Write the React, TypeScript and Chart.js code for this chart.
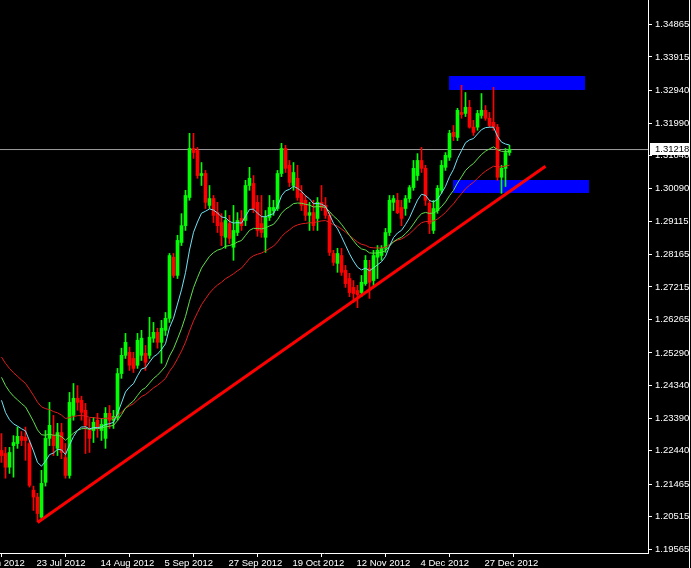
import React, { useEffect, useRef } from "react";
import { Chart, registerables } from "chart.js";

Chart.register(...registerables);

// ---- Daily EURUSD candles (bar index 0 = 11 Jul 2012) ----
const OPEN = [
  1.2245, 1.2236, 1.2196, 1.2259, 1.2265, 1.2286, 1.2283, 1.2265, 1.2129, 1.2109,
  1.2050, 1.2152, 1.2280, 1.2288, 1.2251, 1.2297, 1.2224, 1.2172, 1.2347, 1.2397,
  1.2391, 1.2362, 1.2303, 1.2303, 1.2333, 1.2303, 1.2280, 1.2353, 1.2333, 1.2341,
  1.2469, 1.2522, 1.2531, 1.2513, 1.2493, 1.2522, 1.2528, 1.2522, 1.2572, 1.2589,
  1.2560, 1.2595, 1.2630, 1.2808, 1.2755, 1.2851, 1.2900, 1.2982, 1.3125, 1.3119,
  1.3046, 1.3052, 1.2959, 1.2979, 1.2938, 1.2909, 1.2866, 1.2906, 1.2837, 1.2880,
  1.2921, 1.2915, 1.3017, 1.3023, 1.2968, 1.2906, 1.2866, 1.2924, 1.2944, 1.2950,
  1.3052, 1.3125, 1.3076, 1.3017, 1.3038, 1.2994, 1.2974, 1.2930, 1.2938, 1.2921,
  1.2968, 1.2959, 1.2930, 1.2819, 1.2790, 1.2813, 1.2770, 1.2746, 1.2720, 1.2711,
  1.2705, 1.2731, 1.2775, 1.2740, 1.2808, 1.2813, 1.2834, 1.2880, 1.2968, 1.2974,
  1.2953, 1.2950, 1.2979, 1.3011, 1.3046, 1.3090, 1.3067, 1.2965, 1.2886, 1.2944,
  1.3003, 1.3070, 1.3099, 1.3172, 1.3157, 1.3230, 1.3227, 1.3245, 1.3187, 1.3187,
  1.3221, 1.3236, 1.3213, 1.3201, 1.3187, 1.3041, 1.3067, 1.3113,
];
const HIGH = [
  1.2294, 1.2254, 1.2254, 1.2288, 1.2313, 1.2300, 1.2313, 1.2274, 1.2141, 1.2120,
  1.2187, 1.2303, 1.2385, 1.2347, 1.2324, 1.2324, 1.2265, 1.2414, 1.2440, 1.2434,
  1.2403, 1.2382, 1.2338, 1.2341, 1.2353, 1.2338, 1.2370, 1.2376, 1.2362, 1.2484,
  1.2543, 1.2586, 1.2546, 1.2531, 1.2586, 1.2595, 1.2551, 1.2633, 1.2618, 1.2601,
  1.2624, 1.2647, 1.2819, 1.2819, 1.2872, 1.2935, 1.3003, 1.3169, 1.3169, 1.3128,
  1.3084, 1.3061, 1.3017, 1.2988, 1.2968, 1.2935, 1.2944, 1.2930, 1.2959, 1.2938,
  1.2944, 1.3032, 1.3070, 1.3046, 1.2988, 1.2988, 1.2944, 1.2988, 1.2974, 1.3061,
  1.3140, 1.3134, 1.3090, 1.3084, 1.3076, 1.3017, 1.2988, 1.2968, 1.2974, 1.2982,
  1.3017, 1.2982, 1.2938, 1.2828, 1.2834, 1.2834, 1.2784, 1.2761, 1.2740, 1.2726,
  1.2755, 1.2813, 1.2799, 1.2828, 1.2842, 1.2842, 1.2892, 1.2988, 1.2988, 1.2994,
  1.2974, 1.2988, 1.3017, 1.3090, 1.3110, 1.3128, 1.3076, 1.2974, 1.2974, 1.3017,
  1.3090, 1.3113, 1.3178, 1.3192, 1.3242, 1.3309, 1.3288, 1.3265, 1.3207, 1.3236,
  1.3285, 1.3250, 1.3230, 1.3303, 1.3195, 1.3076, 1.3125, 1.3134,
];
const LOW = [
  1.2210, 1.2164, 1.2178, 1.2167, 1.2251, 1.2259, 1.2216, 1.2138, 1.2070, 1.2038,
  1.2044, 1.2141, 1.2259, 1.2230, 1.2230, 1.2221, 1.2164, 1.2164, 1.2333, 1.2362,
  1.2333, 1.2236, 1.2239, 1.2268, 1.2283, 1.2274, 1.2251, 1.2309, 1.2309, 1.2333,
  1.2455, 1.2513, 1.2478, 1.2472, 1.2484, 1.2507, 1.2478, 1.2513, 1.2560, 1.2543,
  1.2499, 1.2580, 1.2618, 1.2749, 1.2746, 1.2842, 1.2886, 1.2974, 1.3096, 1.3038,
  1.3017, 1.2950, 1.2950, 1.2909, 1.2880, 1.2842, 1.2834, 1.2848, 1.2799, 1.2871,
  1.2886, 1.2900, 1.3003, 1.2938, 1.2869, 1.2866, 1.2822, 1.2915, 1.2930, 1.2944,
  1.3043, 1.3055, 1.3014, 1.3003, 1.2974, 1.2944, 1.2915, 1.2886, 1.2886, 1.2886,
  1.2944, 1.2921, 1.2813, 1.2784, 1.2764, 1.2755, 1.2720, 1.2693, 1.2676, 1.2661,
  1.2693, 1.2726, 1.2688, 1.2726, 1.2746, 1.2799, 1.2822, 1.2871, 1.2944, 1.2935,
  1.2900, 1.2930, 1.2968, 1.3003, 1.3032, 1.3055, 1.2959, 1.2877, 1.2877, 1.2936,
  1.2994, 1.3061, 1.3090, 1.3148, 1.3148, 1.3213, 1.3218, 1.3184, 1.3163, 1.3178,
  1.3213, 1.3207, 1.3187, 1.3178, 1.3032, 1.2994, 1.3014, 1.3105,
];
const CLOSE = [
  1.2230, 1.2196, 1.2239, 1.2268, 1.2286, 1.2274, 1.2274, 1.2143, 1.2109, 1.2061,
  1.2149, 1.2280, 1.2318, 1.2259, 1.2297, 1.2239, 1.2172, 1.2385, 1.2397, 1.2385,
  1.2356, 1.2318, 1.2280, 1.2327, 1.2313, 1.2321, 1.2353, 1.2333, 1.2344, 1.2469,
  1.2522, 1.2560, 1.2493, 1.2484, 1.2566, 1.2572, 1.2502, 1.2575, 1.2589, 1.2560,
  1.2601, 1.2630, 1.2813, 1.2755, 1.2857, 1.2900, 1.2988, 1.3125, 1.3113, 1.3046,
  1.3052, 1.2968, 1.2979, 1.2930, 1.2900, 1.2871, 1.2915, 1.2863, 1.2886, 1.2915,
  1.2900, 1.3017, 1.3038, 1.2950, 1.2886, 1.2880, 1.2924, 1.2953, 1.2953, 1.3052,
  1.3125, 1.3067, 1.3026, 1.3055, 1.2982, 1.2959, 1.2930, 1.2938, 1.2900, 1.2968,
  1.2953, 1.2930, 1.2822, 1.2793, 1.2819, 1.2764, 1.2731, 1.2705, 1.2702, 1.2699,
  1.2735, 1.2799, 1.2735, 1.2813, 1.2828, 1.2834, 1.2880, 1.2974, 1.2979, 1.2938,
  1.2921, 1.2979, 1.3011, 1.3067, 1.3090, 1.3067, 1.2974, 1.2906, 1.2950, 1.3009,
  1.3076, 1.3105, 1.3169, 1.3160, 1.3236, 1.3224, 1.3245, 1.3187, 1.3172, 1.3227,
  1.3236, 1.3213, 1.3192, 1.3187, 1.3041, 1.3067, 1.3113, 1.31218,
];

// ---- Axis ticks ----
const PRICE_TICKS = [
  1.34865, 1.33915, 1.3294, 1.3199, 1.3104, 1.3009, 1.29115, 1.28165, 1.27215,
  1.26265, 1.2529, 1.2434, 1.2339, 1.2244, 1.21465, 1.20515, 1.19565,
];
const DATE_TICK_INDEX = [-8, 8, 24, 40, 56, 72, 88, 104, 120];
const DATE_TICK_LABELS = [
  "29 Jun 2012", "23 Jul 2012", "14 Aug 2012", "5 Sep 2012", "27 Sep 2012",
  "19 Oct 2012", "12 Nov 2012", "4 Dec 2012", "27 Dec 2012",
];
const LAST_PRICE = 1.31218;

// ---- Moving averages (periods and their values at bar 0) ----
const MA_PERIODS = [10, 21, 34];
const MA_START = [1.2391, 1.2458, 1.2517];
const MA_COLORS = ["#6fe3f5", "#5fe04a", "#e21c1c"];

// ---- Drawn objects ----
const TREND_INDEX = [9, 136];
const TREND_PRICE = [1.2035, 1.3073];
const ZONE_FROM = [112, 113];
const ZONE_TO = [146, 147];
const ZONE_HIGH = [1.3335, 1.3032];
const ZONE_LOW = [1.3295, 1.2995];

// ---- View ----
const X_MIN = -0.375;
const X_MAX = X_MIN + 162;
const Y_MAX = 1.35576;
const Y_MIN = Y_MAX - 553 / 3431.4;

const UP = "#00ff00";
const DOWN = "#ff0000";
const FONT = { family: "'Liberation Sans', Arial, sans-serif", size: 9.5 };

function ema(values: number[], period: number, start: number): number[] {
  const a = 2 / (period + 1);
  const out: number[] = [start];
  for (let i = 1; i < values.length; i++) {
    out.push(out[i - 1] + a * (values[i] - out[i - 1]));
  }
  return out;
}

function noPad(s: any) {
  s.paddingLeft = 0;
  s.paddingRight = 0;
  s.paddingTop = 0;
  s.paddingBottom = 0;
}

export default function App() {
  const ref = useRef<HTMLCanvasElement>(null);

  useEffect(() => {
    const canvas = ref.current;
    if (!canvas) return;
    const idx = CLOSE.map((_, i) => i);
    const colors = idx.map((i) => (CLOSE[i] >= OPEN[i] ? UP : DOWN));
    const mas = MA_PERIODS.map((p, k) => ema(CLOSE, p, MA_START[k]));

    const mtPlugin = {
      id: "mtDecor",
      beforeDraw(chart: any) {
        const ctx = chart.ctx;
        ctx.save();
        ctx.fillStyle = "#000000";
        ctx.fillRect(0, 0, chart.width, chart.height);
        ctx.restore();
      },
      beforeDatasetsDraw(chart: any) {
        const ctx = chart.ctx;
        const xs = chart.scales.x;
        const ys = chart.scales.y;
        const a = chart.chartArea;
        ctx.save();
        ctx.beginPath();
        ctx.rect(a.left, a.top, a.right - a.left, a.bottom - a.top);
        ctx.clip();
        ctx.fillStyle = "#0000ff";
        for (let k = 0; k < ZONE_FROM.length; k++) {
          const x1 = Math.floor(xs.getPixelForValue(ZONE_FROM[k]));
          const x2 = Math.floor(xs.getPixelForValue(ZONE_TO[k]));
          const y1 = Math.round(ys.getPixelForValue(ZONE_HIGH[k]));
          const y2 = Math.round(ys.getPixelForValue(ZONE_LOW[k]));
          ctx.fillRect(x1, y1, x2 - x1, y2 - y1);
        }
        ctx.restore();
      },
      afterDraw(chart: any) {
        const ctx = chart.ctx;
        const ys = chart.scales.y;
        const a = chart.chartArea;
        const y = Math.floor(ys.getPixelForValue(LAST_PRICE));
        ctx.save();
        ctx.fillStyle = "#ffffff";
        ctx.fillRect(a.right + 2, y - 6, 39, 12);
        ctx.fillStyle = "#000000";
        ctx.font = `${FONT.size}px ${FONT.family}`;
        ctx.textBaseline = "middle";
        ctx.textAlign = "left";
        ctx.fillText(LAST_PRICE.toFixed(5), a.right + 7, y + 0.5);
        ctx.fillStyle = "#ffffff";
        ctx.fillRect(chart.width - 2, 0, 1, chart.height);
        ctx.restore();
      },
    };

    const chart = new Chart(canvas, {
      type: "line",
      data: {
        datasets: [
          {
            type: "line",
            label: "price",
            data: [
              { x: X_MIN, y: LAST_PRICE },
              { x: X_MAX, y: LAST_PRICE },
            ],
            borderColor: "#9c9c9c",
            borderWidth: 1,
            pointRadius: 0,
            order: 10,
          },
          {
            type: "bar",
            label: "wicks",
            data: idx.map((i) => ({ x: i, y: [LOW[i], HIGH[i]] })),
            backgroundColor: colors,
            barThickness: 1,
            grouped: false,
            borderWidth: 0,
            minBarLength: 1,
            order: 6,
          },
          {
            type: "bar",
            label: "bodies",
            data: idx.map((i) => ({ x: i, y: [OPEN[i], CLOSE[i]] })),
            backgroundColor: colors,
            barThickness: 3,
            grouped: false,
            borderWidth: 0,
            minBarLength: 1,
            order: 5,
          },
          ...mas.map((m, k) => ({
            type: "line",
            label: "MA" + MA_PERIODS[k],
            data: m.map((v, i) => ({ x: i, y: v })),
            borderColor: MA_COLORS[k],
            borderWidth: 1,
            pointRadius: 0,
            tension: 0,
            order: 3,
          })),
          {
            type: "line",
            label: "trend",
            data: TREND_INDEX.map((v, k) => ({ x: v, y: TREND_PRICE[k] })),
            borderColor: "#ff0000",
            borderWidth: 3,
            pointRadius: 0,
            order: 1,
          },
        ] as any,
      },
      options: {
        animation: false,
        responsive: false,
        devicePixelRatio: 1,
        events: [],
        layout: { padding: 0, autoPadding: false },
        plugins: { legend: { display: false }, tooltip: { enabled: false } },
        scales: {
          x: {
            type: "linear",
            position: "bottom",
            min: X_MIN,
            max: X_MAX,
            offset: false,
            afterBuildTicks: (s: any) => {
              s.ticks = DATE_TICK_INDEX.map((v) => ({ value: v }));
            },
            afterFit: (s: any) => {
              s.height = 15;
              noPad(s);
            },
            grid: { drawOnChartArea: false, drawTicks: true, tickLength: 4, color: "#ffffff", lineWidth: 1 },
            border: { display: true, color: "#ffffff", width: 1 },
            ticks: {
              autoSkip: false,
              maxRotation: 0,
              minRotation: 0,
              align: "start",
              labelOffset: 3,
              padding: 1,
              color: "#ffffff",
              font: FONT,
              callback: (v: any) => {
                const k = DATE_TICK_INDEX.indexOf(Number(v));
                return k >= 0 ? DATE_TICK_LABELS[k] : "";
              },
            },
          },
          y: {
            type: "linear",
            position: "right",
            min: Y_MIN,
            max: Y_MAX,
            afterBuildTicks: (s: any) => {
              s.ticks = PRICE_TICKS.map((v) => ({ value: v }));
            },
            afterFit: (s: any) => {
              s.width = 43;
              noPad(s);
            },
            grid: { drawOnChartArea: false, drawTicks: true, tickLength: 4, color: "#ffffff", lineWidth: 1 },
            border: { display: true, color: "#ffffff", width: 1 },
            ticks: {
              autoSkip: false,
              padding: 3,
              color: "#ffffff",
              font: FONT,
              callback: (v: any) => Number(v).toFixed(5),
            },
          },
        },
      } as any,
      plugins: [mtPlugin],
    });

    return () => chart.destroy();
  }, []);

  return (
    <div style={{ position: "absolute", left: 0, top: 0, width: 691, height: 568, background: "#000" }}>
      <canvas ref={ref} width={691} height={568} style={{ display: "block" }} />
    </div>
  );
}
